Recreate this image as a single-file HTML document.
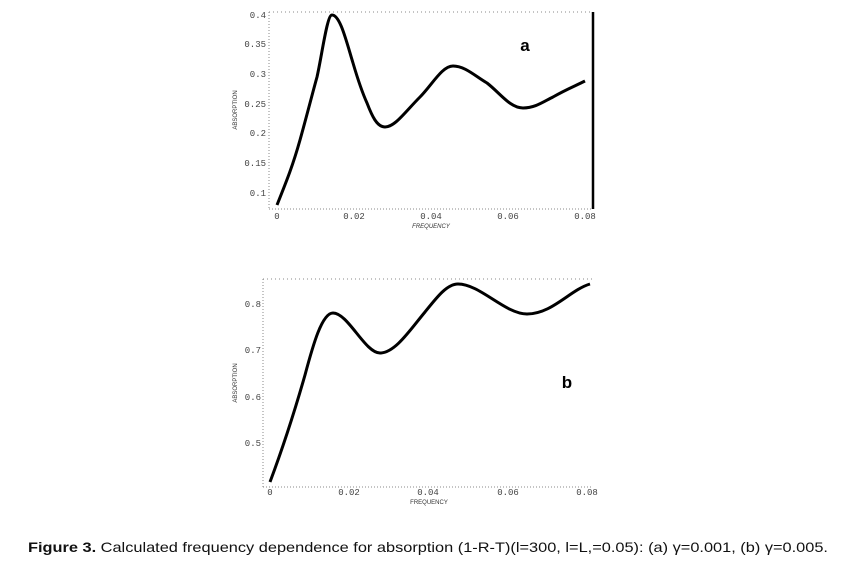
<!DOCTYPE html>
<html><head><style>
body{margin:0;background:#fff;}
svg{display:block;}
.t{font-family:"Liberation Mono",monospace;font-size:9px;fill:#444;}
.l{font-family:"Liberation Sans",sans-serif;font-size:6px;fill:#333;}
</style></head><body>
<svg width="841" height="562" viewBox="0 0 841 562" xmlns="http://www.w3.org/2000/svg">
<g stroke="#888" stroke-width="1" fill="none">
<line x1="269" y1="12" x2="269" y2="209" stroke-dasharray="1,2"/>
<line x1="269" y1="209" x2="592" y2="209" stroke-dasharray="1,2"/>
<line x1="269" y1="12" x2="592" y2="12" stroke-dasharray="1,3"/>
</g>
<line x1="593" y1="12" x2="593" y2="209" stroke="#000" stroke-width="2.5"/>
<g class="t" text-anchor="end">
<text x="266" y="18">0.4</text><text x="266" y="47">0.35</text><text x="266" y="77">0.3</text>
<text x="266" y="107">0.25</text><text x="266" y="136">0.2</text><text x="266" y="166">0.15</text>
<text x="266" y="196">0.1</text>
</g>
<g class="t" text-anchor="middle">
<text x="277" y="219">0</text><text x="354" y="219">0.02</text><text x="431" y="219">0.04</text>
<text x="508" y="219">0.06</text><text x="585" y="219">0.08</text>
</g>
<text class="l" x="431" y="228" text-anchor="middle" font-style="italic">FREQUENCY</text>
<text class="l" transform="translate(237,110) rotate(-90)" text-anchor="middle">ABSORPTION</text>
<path d="M277,205 C287,180 293,165 300,140 C307,115 312,95 317,77 C322,55 327,15 332,15 C340,15 346,40 353,63 C358,80 362,92 367,103 C372,116 377,127 385,127 C395,127 405,112 420,97 C432,85 442,66 453,66 C465,66 475,76 487,83 C500,93 510,108 523,108 C535,108 543,102 553,97 C565,90 575,86 585,81" stroke="#000" stroke-width="3" fill="none"/>
<text x="525" y="51" font-family="Liberation Sans,sans-serif" font-size="17" font-weight="bold" fill="#000" text-anchor="middle">a</text>

<g stroke="#888" stroke-width="1" fill="none">
<line x1="263" y1="279" x2="263" y2="487" stroke-dasharray="1,2"/>
<line x1="263" y1="487" x2="592" y2="487" stroke-dasharray="1,2"/>
<line x1="263" y1="279" x2="592" y2="279" stroke-dasharray="1,3"/>
</g>
<g class="t" text-anchor="end">
<text x="261" y="307">0.8</text><text x="261" y="353">0.7</text><text x="261" y="400">0.6</text>
<text x="261" y="446">0.5</text>
</g>
<g class="t" text-anchor="middle">
<text x="270" y="495">0</text><text x="349" y="495">0.02</text><text x="428" y="495">0.04</text>
<text x="508" y="495">0.06</text><text x="587" y="495">0.08</text>
</g>
<text class="l" x="429" y="504" text-anchor="middle">FREQUENCY</text>
<text class="l" transform="translate(237,383) rotate(-90)" text-anchor="middle">ABSORPTION</text>
<path d="M270,482 C282,450 295,410 305,375 C313,345 322,313 333,313 C348,313 365,353 380,353 C395,353 410,330 425,312 C437,297 447,284 458,284 C480,284 505,314 527,314 C552,314 570,290 590,284" stroke="#000" stroke-width="3" fill="none"/>
<text x="567" y="388" font-family="Liberation Sans,sans-serif" font-size="17" font-weight="bold" fill="#000" text-anchor="middle">b</text>

<text x="28" y="552" font-family="Liberation Sans,sans-serif" font-size="14" fill="#111" textLength="800" lengthAdjust="spacingAndGlyphs"><tspan font-weight="bold">Figure 3.</tspan> Calculated frequency dependence for absorption (1-R-T)(l=300, l=L,=0.05): (a) γ=0.001, (b) γ=0.005.</text>
</svg>
</body></html>
